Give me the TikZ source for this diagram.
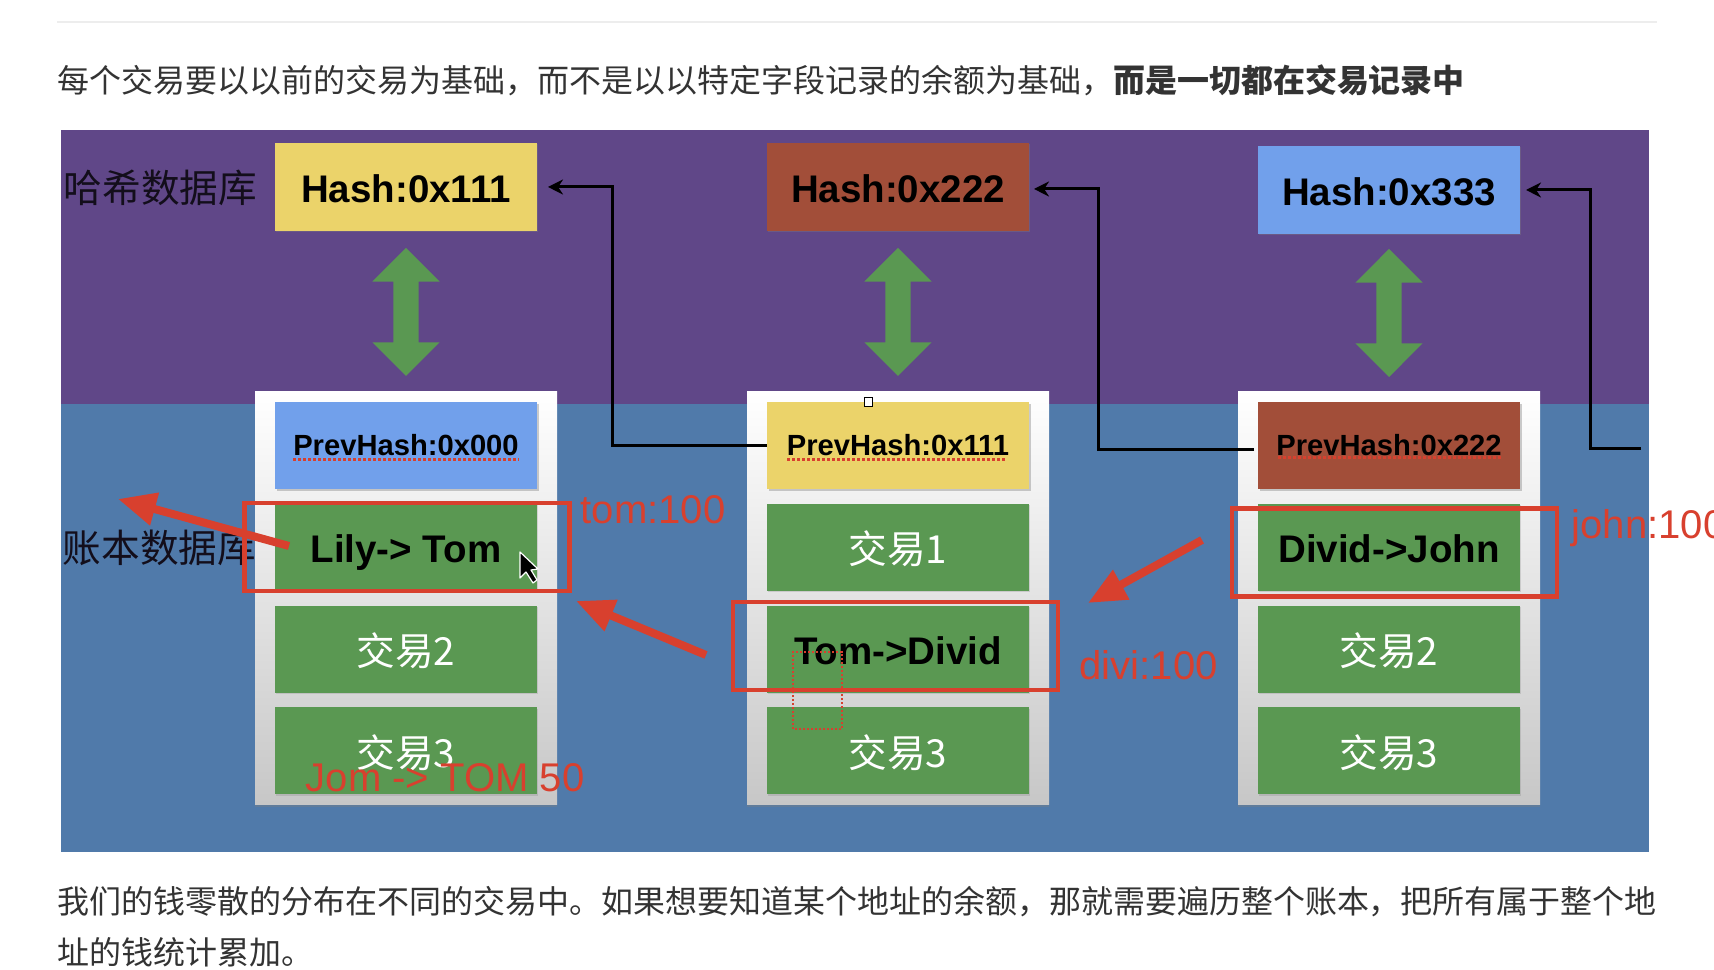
\documentclass[tikz,border=0pt]{standalone}
\usepackage{xcolor}
\usepackage{fontspec}
\setmainfont{Liberation Sans}
\newfontfamily\cjk{Noto Sans CJK SC}
\usetikzlibrary{arrows.meta,calc,shapes.arrows,shadows}
\definecolor{hashband}{RGB}{96,71,136}
\definecolor{ledgerband}{RGB}{80,122,170}
\definecolor{sand}{RGB}{235,211,106}
\definecolor{brick}{RGB}{162,78,57}
\definecolor{sky}{RGB}{113,160,235}
\definecolor{grass}{RGB}{90,152,82}
\definecolor{redmark}{RGB}{216,64,46}
\definecolor{prose}{RGB}{51,51,51}
\tikzset{
  hashbox/.style={rectangle, inner sep=0pt, outer sep=0pt, minimum width=2.62cm, minimum height=0.88cm,
    text height=0.31cm, text depth=0pt,
    font=\bfseries\fontsize{10.95pt}{12pt}\selectfont, drop shadow={shadow xshift=0.01cm, shadow yshift=-0.015cm, opacity=0.35}},
  prevbox/.style={rectangle, inner sep=0pt, outer sep=0pt, minimum width=2.62cm, minimum height=0.87cm,
    font=\bfseries\fontsize{8.3pt}{10pt}\selectfont, drop shadow={shadow xshift=0.015cm, shadow yshift=-0.02cm, opacity=0.4}},
  txbox/.style={rectangle, fill=grass, inner sep=0pt, outer sep=0pt, minimum width=2.62cm, minimum height=0.87cm,
    text=white, text depth=0pt, font=\cjk\fontsize{11pt}{12pt}\selectfont, drop shadow={shadow xshift=0.01cm, shadow yshift=-0.015cm, opacity=0.25}},
  paidbox/.style={txbox, text=black, text height=0.31cm, text depth=0pt, font=\bfseries\fontsize{10.95pt}{12pt}\selectfont},
  panel/.style={rectangle, top color=white, bottom color=black!22, inner sep=0pt, outer sep=0pt,
    minimum width=3.02cm, minimum height=4.13cm, drop shadow={shadow xshift=0cm, shadow yshift=-0.02cm, opacity=0.35}},
  both/.style={double arrow, fill=grass, inner xsep=0pt, inner ysep=0.12cm, outer sep=0pt, rotate=90,
    minimum height=1.28cm, double arrow head extend=0.21cm},
  ringbox/.style={draw=redmark, line width=0.045cm, inner sep=0pt, outer sep=0pt, minimum width=3.25cm, minimum height=0.88cm},
  backlink/.style={draw=black, line width=0.03cm, -{Stealth[length=0.15cm,width=0.15cm]}},
  spend/.style={draw=redmark, line width=0.08cm, -{Triangle[length=0.38cm,width=0.32cm]}},
  spell/.style={draw=redmark, line width=0.025cm, dash pattern=on 0.03cm off 0.02cm},
  note/.style={text=redmark, anchor=west, inner sep=0pt, font=\fontsize{11.4pt}{13pt}\selectfont},
  dbname/.style={text=black!80!hashband, anchor=west, inner sep=0pt, font=\cjk\fontsize{11pt}{12pt}\selectfont},
  para/.style={text=prose, anchor=west, inner sep=0pt, font=\cjk\fontsize{9.1pt}{11pt}\selectfont}
}
\begin{document}
\begin{tikzpicture}
    \path[use as bounding box, clip] (0,0) rectangle (17.14,9.70);
    \fill[white] (0,0) rectangle (17.14,9.70);
    \draw[black!7, line width=0.02cm] (0.57,9.48) -- (16.57,9.48);

    \node[para] (introline) at (0.57,8.90) {每个交易要以以前的交易为基础，而不是以以特定字段记录的余额为基础，\textbf{而是一切都在交易记录中}};
    \node[para] (moneya) at (0.57,0.68) {我们的钱零散的分布在不同的交易中。如果想要知道某个地址的余额，那就需要遍历整个账本，把所有属于整个地};
    \node[para] (moneyb) at (0.57,0.18) {址的钱统计累加。};

    % two bands
    \fill[hashband] (0.61,5.66) rectangle (16.49,8.40);
    \fill[ledgerband] (0.61,1.18) rectangle (16.49,5.66);

    \node[dbname] (hashdb) at (0.63,7.82) {哈希数据库};
    \node[dbname] (ledgerdb) at (0.62,4.22) {账本数据库};

    \node[hashbox, fill=sand] (hasha) at (4.06,7.83) {Hash:0x111};
    \node[hashbox, fill=brick] (hashb) at (8.98,7.83) {Hash:0x222};
    \node[hashbox, fill=sky] (hashc) at (13.89,7.80) {Hash:0x333};

    \node[both] (linka) at (4.06,6.58) {};
    \node[both] (linkb) at (8.98,6.58) {};
    \node[both] (linkc) at (13.89,6.57) {};

    \node[panel] (panela) at (4.06,3.715) {};
    \node[panel] (panelb) at (8.98,3.715) {};
    \node[panel] (panelc) at (13.89,3.715) {};

    % first block
    \node[prevbox, fill=sky] (preva) at (4.06,5.245) {PrevHash:0x000};
    \node[paidbox] (txaa) at (4.06,4.225) {Lily-> Tom};
    \node[txbox] (txab) at (4.06,3.205) {交易2};
    \node[txbox] (txac) at (4.06,2.19) {交易3};

    % second block
    \node[prevbox, fill=sand] (prevb) at (8.98,5.245) {PrevHash:0x111};
    \node[txbox] (txba) at (8.98,4.225) {交易1};
    \node[paidbox] (txbb) at (8.98,3.205) {Tom->Divid};
    \node[txbox] (txbc) at (8.98,2.19) {交易3};

    % third block
    \node[prevbox, fill=brick] (prevc) at (13.89,5.245) {PrevHash:0x222};
    \node[paidbox] (txca) at (13.89,4.225) {Divid->John};
    \node[txbox] (txcb) at (13.89,3.205) {交易2};
    \node[txbox] (txcc) at (13.89,2.19) {交易3};

    \draw[spell] ($(preva.center)+(-1.13,-0.14)$) -- ++(2.26,0);
    \draw[spell] ($(prevb.center)+(-1.11,-0.14)$) -- ++(2.18,0);
    \draw[spell] ($(prevc.center)+(-1.11,-0.12)$) -- ++(2.23,0);

    \coordinate (tail) at (16.41,5.21);
    \draw[backlink, shorten >=0.11cm] (prevb.west) -- ++(-1.55,0) |- (hasha.east);
    \draw[backlink, shorten >=0.05cm] ([yshift=-0.04cm,xshift=-0.04cm]prevc.west) -- ++(-1.56,0) |- ([yshift=-0.02cm]hashb.east);
    \draw[backlink, shorten >=0.06cm] (tail) -- ++(-0.51,0) |- (hashc.east);

    \node[draw=black, fill=white, line width=0.01cm, inner sep=0pt, minimum width=0.08cm, minimum height=0.09cm] (handle) at (8.68,5.68) {};
    \draw[redmark, line width=0.015cm, dash pattern=on 0.02cm off 0.02cm] (7.93,2.41) rectangle (8.42,3.18);

    % red marks
    \node[ringbox] (ringa) at (4.07,4.23) {};
    \node[ringbox] (ringb) at (8.955,3.24) {};
    \node[ringbox] (ringc) at (13.945,4.175) {};

    \coordinate (taila) at (2.89,4.24);
    \coordinate (tipa) at (1.18,4.71);
    \coordinate (tailb) at (7.06,3.15);
    \coordinate (tipb) at (5.76,3.69);
    \coordinate (tailc) at (12.02,4.30);
    \coordinate (tipc) at (10.88,3.67);
    \draw[spend] (taila) -- (tipa);
    \draw[spend] (tailb) -- (tipb);
    \draw[spend] (tailc) -- (tipc);

    \node[note] (notea) at (5.80,4.60) {tom:100};
    \node[note] (noteb) at (10.79,3.05) {divi:100};
    \node[note] (notec) at (15.71,4.42) {john:100};
    \node[note] (notetx) at (3.05,1.92) {Jom -> TOM 50};

    % pointer
    \draw[white, fill=black, line width=0.012cm, line join=round]
      (5.20,4.18) -- (5.20,3.92) -- (5.26,3.98) -- (5.33,3.87) -- (5.37,3.90) -- (5.31,4.00) -- (5.38,4.01) -- cycle;
\end{tikzpicture}
\end{document}
